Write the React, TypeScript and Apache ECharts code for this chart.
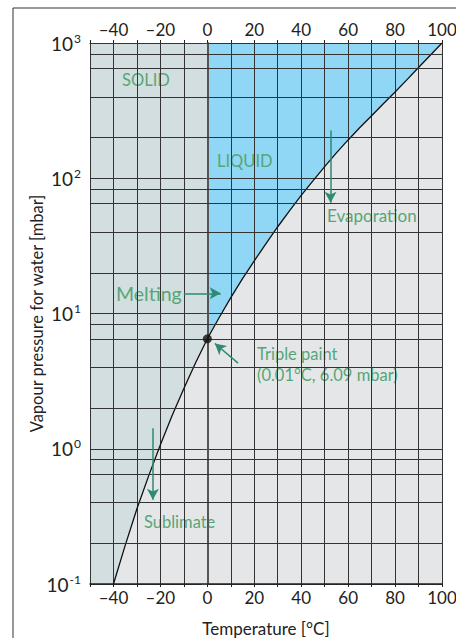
import React, { useEffect, useRef } from "react";
import * as echarts from "echarts";

// Vapour pressure curve (°C, mbar)
const temps = [-40, -35, -30, -25, -20, -15, -10, -5, 0, 5, 10, 15, 20, 25, 30, 35, 40, 45, 50, 55, 60, 65, 70, 75, 80, 85, 90, 95, 100];
const pressures = [0.1, 0.193, 0.36, 0.63, 1.07, 1.76, 2.79, 4.33, 6.5, 9.3, 13.1, 18.1, 24.5, 32.9, 43.8, 57.4, 74.6, 95.7, 122, 154, 192, 237, 290, 355, 434, 534, 659, 812, 1000];

// extra horizontal grid lines within each decade
const minorGridValues = [0.2, 0.4, 0.65, 0.83, 2, 4, 6.5, 8.3, 20, 40, 65, 83, 200, 400, 650, 830];

const triplePoint = [0, 6.5];

const regionNames = ["Vapour", "Solid", "Liquid"];
const regionColors = ["#e5e6e8", "#d3dee0", "#8fd7f5"];

// arrows: [from, to] in data coordinates
const arrows = [
  [[52.5, 225], [52.5, 66]],
  [[-10, 14.1], [5.7, 14.1]],
  [[13.1, 4.3], [3.2, 6.0]],
  [[-23.2, 1.42], [-23.2, 0.42]],
];

const FONT = "Lato";
const GREEN = "#56a676";
const ARROW = "#2e8a72";

export default function App() {
  const ref = useRef<HTMLDivElement>(null);
  useEffect(() => {
    if (!ref.current) return;
    const chart = echarts.init(ref.current, null, { renderer: "svg" });
    const curve = temps.map((t, i) => [t, pressures[i]]);
    const xMin = -50, xMax = 100, yMin = 0.1, yMax = 1000;
    const regionPolys = [
      [[xMin, yMin], [xMax, yMin], [xMax, yMax], [xMin, yMax]],
      [[xMin, yMin], ...curve.filter((p) => p[0] <= 0), [0, yMax], [xMin, yMax]],
      [...curve.filter((p) => p[0] >= 0), [0, yMax]],
    ];
    const fmtX = (v: number) => {
      if (v % 20 !== 0) return "";
      return v < 0 ? "\u2013" + Math.abs(v) : String(v);
    };
    const xAxisBase = {
      type: "value",
      min: xMin,
      max: xMax,
      interval: 10,
      axisLine: { show: true, lineStyle: { color: "#222", width: 1.5 } },
      axisTick: { show: true, length: 3, lineStyle: { color: "#222" } },
      splitLine: { show: true, lineStyle: { color: "#333", width: 1 } },
      axisLabel: { formatter: fmtX, color: "#222", fontFamily: FONT, fontSize: 17, margin: 5 },
    };
    chart.setOption({
      animation: false,
      textStyle: { fontFamily: FONT },
      grid: { left: 90, right: 14, top: 43, bottom: 54, containLabel: false, outerBoundsMode: "none" },
      xAxis: [
        {
          ...xAxisBase,
          position: "bottom",
          name: "Temperature [\u00b0C]",
          nameLocation: "middle",
          nameGap: 36,
          nameMoveOverlap: false,
          nameTextStyle: { color: "#222", fontFamily: FONT, fontSize: 17, lineHeight: 17 },
        },
        { ...xAxisBase, position: "top", axisLine: { show: true, lineStyle: { color: "#333", width: 1 } } },
      ],
      yAxis: {
        type: "log",
        logBase: 10,
        min: yMin,
        max: yMax,
        name: "Vapour pressure for water [mbar]",
        nameLocation: "middle",
        nameGap: 45,
        nameMoveOverlap: false,
        nameTextStyle: { color: "#222", fontFamily: FONT, fontSize: 16.5 },
        axisLine: { show: true, lineStyle: { color: "#555", width: 2 } },
        axisTick: { show: true, length: 6, lineStyle: { color: "#444" } },
        splitLine: { show: true, lineStyle: { color: "#333", width: 1 } },
        axisLabel: {
          margin: 9,
          formatter: (v: number) => "{b|10}{s|" + Math.round(Math.log10(v)) + "}",
          rich: {
            b: { fontSize: 19, fontFamily: FONT, color: "#222", lineHeight: 22 },
            s: { fontSize: 12, fontFamily: FONT, color: "#222", verticalAlign: "top", lineHeight: 22, padding: [0, 0, 0, 1] },
          },
        },
      },
      series: [
        {
          type: "custom",
          name: "regions",
          z: -1,
          silent: true,
          coordinateSystem: "cartesian2d",
          data: regionNames.map(() => [xMin, 1]),
          renderItem: (params: any, api: any) => ({
            type: "polygon",
            shape: { points: regionPolys[params.dataIndex].map((p) => api.coord(p)) },
            style: { fill: regionColors[params.dataIndex] },
          }),
        },
        {
          type: "line",
          name: "Vapour pressure",
          data: curve,
          showSymbol: false,
          smooth: false,
          lineStyle: { color: "#111", width: 1.3 },
          z: 4,
          markLine: {
            silent: true,
            symbol: "none",
            label: { show: false },
            lineStyle: { color: "#333", width: 1, type: "solid" },
            data: minorGridValues.map((v) => ({ yAxis: v })),
          },
        },
        {
          type: "scatter",
          name: "Triple point",
          data: [triplePoint],
          symbolSize: 9,
          itemStyle: { color: "#111" },
          z: 6,
          markLine: {
            silent: true,
            symbol: ["none", "arrow"],
            symbolSize: [9, 11],
            label: { show: false },
            lineStyle: { color: ARROW, width: 1.5, type: "solid" },
            data: arrows.map((a) => [{ coord: a[0] }, { coord: a[1] }]),
          },
        },
      ],
      graphic: [
        { type: "rect", shape: { x: 13, y: 8, width: 500, height: 700 }, style: { fill: "none", stroke: "#333", lineWidth: 1 }, silent: true },
        { type: "text", x: 122, y: 80, style: { text: "SOLID", fill: GREEN, font: `16.5px ${FONT}`, verticalAlign: "middle" } },
        { type: "text", x: 217, y: 161, style: { text: "LIQUID", fill: GREEN, font: `16.5px ${FONT}`, verticalAlign: "middle" } },
        { type: "text", x: 327, y: 215, style: { text: "Evaporation", fill: GREEN, font: `17px ${FONT}`, verticalAlign: "middle" } },
        { type: "text", x: 116, y: 293, style: { text: "Melting", fill: GREEN, font: `19.5px ${FONT}`, verticalAlign: "middle" } },
        { type: "text", x: 257, y: 354, style: { text: "Triple paint", fill: GREEN, font: `16.5px ${FONT}`, verticalAlign: "middle" } },
        { type: "text", x: 257, y: 375, style: { text: "(0.01\u00b0C, 6.09 mbar)", fill: GREEN, font: `16.5px ${FONT}`, verticalAlign: "middle" } },
        { type: "text", x: 144, y: 522, style: { text: "Sublimate", fill: GREEN, font: `16.5px ${FONT}`, verticalAlign: "middle" } },
      ],
    });
    return () => chart.dispose();
  }, []);
  return <div ref={ref} style={{ width: 456, height: 638, position: "absolute", left: 0, top: 0 }} />;
}
